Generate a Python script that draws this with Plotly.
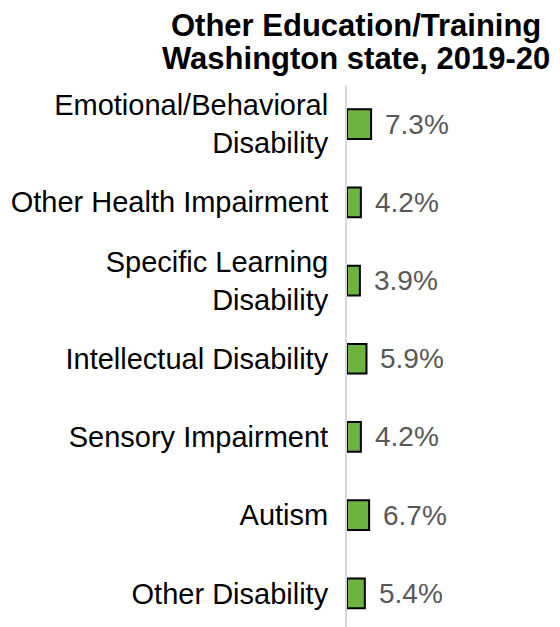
import plotly.graph_objects as go

# Share of students with each disability category going on to other education/training
categories = [
    "Emotional/Behavioral<br>Disability",
    "Other Health Impairment",
    "Specific Learning<br>Disability",
    "Intellectual Disability",
    "Sensory Impairment",
    "Autism",
    "Other Disability",
]
values = [7.3, 4.2, 3.9, 5.9, 4.2, 6.7, 5.4]
title_lines = ["Other Education/Training", "Washington state, 2019-20"]

FONT = "Liberation Sans, Arial, sans-serif"

fig = go.Figure(
    go.Bar(
        x=values,
        y=categories,
        orientation="h",
        width=0.38,
        marker=dict(color="#6DB33F", line=dict(color="#000000", width=2)),
        hoverinfo="skip",
    )
)

# value labels to the right of each bar
for v, c in zip(values, categories):
    fig.add_annotation(
        x=v, y=c, text=f"{v:.1f}%", showarrow=False,
        xanchor="left", yanchor="middle", xshift=12,
        font=dict(family=FONT, size=28, color="#595959"),
    )

# two-line bold title, placed above the plot area
for line, ypos in zip(title_lines, [1.110, 1.049]):
    fig.add_annotation(
        x=0.042, y=ypos, xref="paper", yref="paper",
        text=f"<b>{line}</b>", showarrow=False,
        xanchor="center", yanchor="middle",
        font=dict(family=FONT, size=31, color="#000000"),
    )

fig.update_layout(
    width=560,
    height=627,
    margin=dict(l=347, r=0, t=85, b=0),
    paper_bgcolor="white",
    plot_bgcolor="white",
    showlegend=False,
    font=dict(family=FONT, size=29, color="#000000"),
    xaxis=dict(range=[0, 64.5], visible=False, fixedrange=True),
    yaxis=dict(
        categoryorder="array",
        categoryarray=categories,
        range=[6.43, -0.5],
        showline=True,
        linecolor="#d9d9d9",
        linewidth=2,
        showgrid=False,
        zeroline=False,
        ticks="",
        ticklabelstandoff=11,
        tickfont=dict(family=FONT, size=29, color="#000000"),
    ),
)

fig.write_html("out.html")
